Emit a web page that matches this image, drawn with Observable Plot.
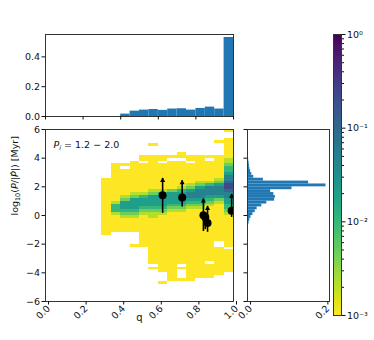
<!DOCTYPE html>
<html><head><meta charset="utf-8">
<script src="https://cdn.jsdelivr.net/npm/d3@7"></script>
<script src="https://cdn.jsdelivr.net/npm/@observablehq/plot@0.6"></script>
<style>
html,body{margin:0;padding:0;background:#fff;}
#fig{position:relative;width:374px;height:340px;overflow:hidden;font-family:"DejaVu Sans";}
</style></head><body><div id="fig"></div>
<script>
// ---------------- data ----------------
// 2D histogram: q bins (left edges, width 0.05) and per-column levels for log10(P/|Pdot|) rows
// rows of 0.2 from +6 (top) down to -6; '.' = empty, digit d -> density 10^(-3 + d/3)
const heatQ = [0.30,0.35,0.40,0.45,0.50,0.55,0.60,0.65,0.70,0.75,0.80,0.85,0.90,0.95];
const heatLevels = [
  ".......... .......000 0000000000 0000000... .......... ..........",
  ".......... ..00000000 0000013331 000000.... .......... ..........",
  ".......... ..0.000000 0001244432 100000.... .......... ..........",
  ".......... .000000000 0012444432 100000.... 0......... ..........",
  ".........0 0.00000000 0013444321 0000000000 0......... ..........",
  ".....0...0 0000000000 0124444321 1000000000 0000000.0. ..........",
  ".........0 0.00000000 0134444321 0000000000 0000000000 ...0......",
  ".........0 .000000000 0244443210 0000000000 0000000000 000.......",
  "........00 .000000000 1344443210 0000000000 0000000.0. ..0.......",
  ".........0 0.00000001 2455432100 0000000000 0000000000 000.......",
  ".........0 0000000012 4555432100 0000000000 0000000000 00........",
  ".........0 .000000013 5554321000 0000000000 000000.000 00........",
  "....0....0 0000000124 5554210000 000000000. .000000000 0.........",
  "0..0000000 1123345567 7655443321 0000000000 0.00000000 .........."
];
// top histogram of q (bins of 0.05)
const topHistQ = [0.40,0.45,0.50,0.55,0.60,0.65,0.70,0.75,0.80,0.85,0.90,0.95];
const topHistFrac = [0.016,0.036,0.043,0.047,0.041,0.050,0.052,0.043,0.054,0.063,0.050,0.530];
// right histogram of log10(P/|Pdot|) (bins of 0.2, top edges)
const rightHistTop = [4.2,4.0,3.8,3.6,3.4,3.2,3.0,2.8,2.6,2.4,2.2,2.0,1.8,1.6,1.4,1.2,1.0,0.8,0.6,0.4,0.2,0.0,-0.2,-0.4,-0.6];
const rightHistFrac = [0.002,0.003,0.004,0.005,0.006,0.008,0.011,0.016,0.041,0.158,0.203,0.115,0.060,0.068,0.072,0.070,0.050,0.037,0.025,0.020,0.014,0.009,0.006,0.004,0.002];
// observed systems (points with lower limits)
const obsQ = [0.623,0.727,0.840,0.850,0.862,0.990];
const obsT = [1.42,1.25,0.02,-0.12,-0.52,0.33];
const obsLo = [0.18,0.62,-1.08,-0.95,-1.14,-0.10];
const obsHi = [2.62,2.46,1.18,-0.12,0.66,1.50];
const obsArrow = [true,true,true,false,true,true];
// ticks & labels
const xTicks = [0,0.2,0.4,0.6,0.8,1.0];
const yTicks = [-6,-4,-2,0,2,4,6];
const topTicks = [0,0.2,0.4];
const rightTicks = [0,0.2];
const cbarMajor = [1e-3,1e-2,1e-1,1];
const cbarMajorLabels = ["10⁻³","10⁻²","10⁻¹","10⁰"];
const cbarMinor = [2e-3,3e-3,4e-3,5e-3,6e-3,7e-3,8e-3,9e-3,2e-2,3e-2,4e-2,5e-2,6e-2,7e-2,8e-2,9e-2,2e-1,3e-1,4e-1,5e-1,6e-1,7e-1,8e-1,9e-1];
const annotText = "Pi = 1.2 − 2.0";
const yLabelText = "log10(P/|Ṗ|) [Myr]";
const xLabelText = "q";

// ---------------- build tables ----------------
const cells = [];
heatLevels.forEach((s, i) => {
  const str = s.replace(/ /g, "");
  for (let r = 0; r < str.length; r++) {
    const c = str[r];
    if (c === ".") continue;
    cells.push({q0: heatQ[i], q1: heatQ[i] + 0.05, y1: 6 - 0.2 * r, y0: 6 - 0.2 * (r + 1), v: Math.pow(10, -3 + (+c) / 3)});
  }
});
const topHist = topHistQ.map((q, i) => ({q0: q, q1: q + 0.05, f: topHistFrac[i]}));
const rightHist = rightHistTop.map((y, i) => ({y1: y, y0: y - 0.2, f: rightHistFrac[i]}));
const obs = obsQ.map((q, i) => ({q, t: obsT[i], lo: obsLo[i], hi: obsHi[i], arrow: obsArrow[i]}));

const colorOpts = {type: "log", domain: [1e-3, 1], scheme: "viridis", reverse: true};
const baseStyle = {fontFamily: "DejaVu Sans", fontSize: "9.5px", background: "transparent", color: "#111", overflow: "visible"};
const frameColor = "#333";
const fig = document.getElementById("fig");
function place(svg, left, top) {
  svg.style.position = "absolute";
  svg.style.left = left + "px";
  svg.style.top = top + "px";
  svg.style.maxWidth = "none";
  fig.appendChild(svg);
}

// ---------------- top histogram ----------------
const topPlot = Plot.plot({
  width: 240, height: 124, marginLeft: 45, marginRight: 7, marginTop: 34, marginBottom: 8,
  style: baseStyle,
  x: {domain: [0, 1]}, y: {domain: [0, 0.55]},
  marks: [
    Plot.rect(topHist, {x1: "q0", x2: "q1", y1: d => 0, y2: "f", fill: "#1f77b4"}),
    Plot.frame({stroke: frameColor}),
    Plot.axisX({ticks: xTicks, tickFormat: () => "", tickSize: 3.5, label: null}),
    Plot.axisY({ticks: topTicks, tickFormat: d3.format(".1f"), tickSize: 3.5, tickPadding: 2, label: null})
  ]
});
place(topPlot, 0, 0);

// ---------------- main 2D histogram ----------------
const mainPlot = Plot.plot({
  width: 240, height: 216, marginLeft: 45, marginRight: 7, marginTop: 5, marginBottom: 39,
  style: baseStyle,
  x: {domain: [0, 1]}, y: {domain: [-6, 6]},
  color: colorOpts,
  marks: [
    Plot.rect(cells, {x1: "q0", x2: "q1", y1: "y0", y2: "y1", fill: "v", shapeRendering: "crispEdges"}),
    Plot.link(obs, {x1: "q", x2: "q", y1: "lo", y2: "hi", stroke: "black", strokeWidth: 1.6, clip: true}),
    Plot.dot(obs.filter(d => d.arrow), {x: "q", y: "hi", symbol: "triangle", r: 1.9, fill: "black", dy: 2.5, clip: true}),
    Plot.dot(obs, {x: "q", y: "t", r: 4, fill: "black", clip: true}),
    Plot.frame({stroke: frameColor}),
    Plot.axisX({ticks: xTicks, tickFormat: d3.format(".1f"), tickRotate: -45, tickSize: 3.5, tickPadding: 2, dx: 3, label: null}),
    Plot.axisY({ticks: yTicks, tickFormat: d3.format("d"), tickSize: 3.5, tickPadding: 2, label: null}),
    Plot.text([yLabelText], {frameAnchor: "left", rotate: -90, dx: -31, text: d => d, fontSize: 9.5}),
    Plot.text([xLabelText], {frameAnchor: "bottom", dy: 19, text: d => d, fontSize: 10}),
    Plot.text([annotText], {frameAnchor: "top-left", dx: 8, dy: 12, textAnchor: "start", text: d => d, fontSize: 9.5})
  ]
});
mainPlot.querySelectorAll("text").forEach(t => {
  if (t.textContent === annotText) {
    t.innerHTML = '<tspan font-style="italic">P</tspan><tspan font-style="italic" font-size="6.5" dy="2">i</tspan><tspan dy="-2"> = 1.2 − 2.0</tspan>';
  } else if (t.textContent === yLabelText) {
    t.innerHTML = 'log<tspan font-size="6.5" dy="2">10</tspan><tspan dy="-2">(</tspan><tspan font-style="italic">P</tspan>/|<tspan font-style="italic">Ṗ</tspan>|) [Myr]';
  }
});
place(mainPlot, 0, 124);

// ---------------- right histogram ----------------
const rightPlot = Plot.plot({
  width: 100, height: 216, marginLeft: 7, marginRight: 11, marginTop: 5, marginBottom: 39,
  style: baseStyle,
  x: {domain: [0, 0.212]}, y: {domain: [-6, 6]},
  marks: [
    Plot.rect(rightHist, {x1: d => 0, x2: "f", y1: "y0", y2: "y1", fill: "#1f77b4"}),
    Plot.frame({stroke: frameColor}),
    Plot.axisX({ticks: rightTicks, tickFormat: d3.format(".1f"), tickRotate: -45, tickSize: 3.5, tickPadding: 2, dx: 3, label: null}),
    Plot.axisY({ticks: yTicks, tickFormat: () => "", tickSize: 3.5, label: null})
  ]
});
place(rightPlot, 240, 124);

// ---------------- colorbar ----------------
const nSlices = 150;
const slices = d3.range(nSlices).map(i => {
  const a = Math.pow(10, -3 + 3 * i / nSlices), b = Math.pow(10, -3 + 3 * (i + 1) / nSlices);
  return {a, b, m: Math.sqrt(a * b)};
});
const cbPlot = Plot.plot({
  width: 48, height: 340, marginLeft: 7, marginRight: 33, marginTop: 34, marginBottom: 25,
  style: baseStyle,
  x: {domain: [0, 1], axis: null}, y: {type: "log", domain: [1e-3, 1]},
  color: colorOpts,
  marks: [
    Plot.rect(slices, {x1: d => 0, x2: d => 1, y1: "a", y2: "b", fill: "m", shapeRendering: "crispEdges"}),
    Plot.frame({stroke: frameColor}),
    Plot.axisY({anchor: "right", ticks: cbarMajor, tickFormat: (d) => cbarMajorLabels[cbarMajor.indexOf(d)], tickSize: 3.5, tickPadding: 2, label: null}),
    Plot.axisY({anchor: "right", ticks: cbarMinor, tickFormat: () => "", tickSize: 2, label: null})
  ]
});
place(cbPlot, 326, 0);
</script></body></html>
